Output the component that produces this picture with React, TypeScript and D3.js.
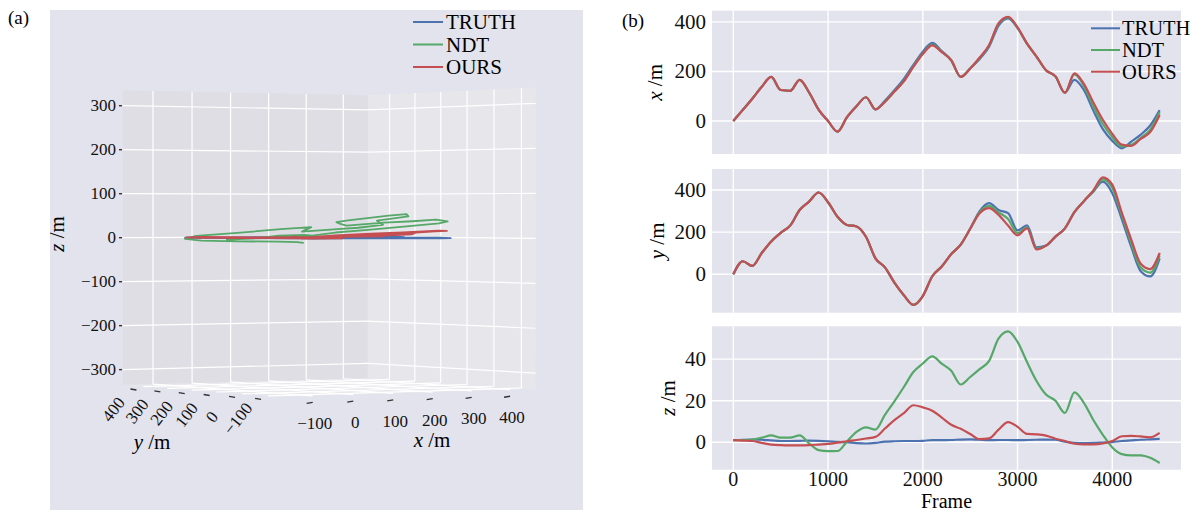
import React from 'react'
import * as d3 from 'd3'

// frame index shared by every series
const FRAMES = [
	0, 100, 200, 300, 400, 500, 600, 700, 800, 900, 1000, 1100, 1200, 1300, 1400, 1500,
	1600, 1700, 1800, 1900, 2000, 2100, 2200, 2300, 2400, 2500, 2600, 2700, 2800, 2900,
	3000, 3100, 3200, 3300, 3400, 3500, 3600, 3700, 3800, 3900, 4000, 4100, 4200, 4300,
	4400, 4500
]

const X_TRUTH = [
	0, 45, 90, 138, 178, 125, 122, 166, 115, 46, 0, -43, 16, 60, 96, 47, 82, 124, 170, 226,
	280, 315, 282, 245, 178, 212, 250, 300, 385, 414, 375, 312, 260, 205, 180, 114, 166, 125,
	42, -33, -80, -110, -83, -55, -18, 44
]
const X_NDT = [
	0, 45, 90, 138, 178, 125, 122, 166, 115, 46, 0, -43, 16, 60, 96, 47, 78, 119, 162, 220,
	272, 308, 279, 245, 178, 212, 254, 305, 392, 418, 377, 312, 260, 205, 180, 114, 188, 142,
	60, -12, -65, -102, -96, -68, -35, 35
]
const X_OURS = [
	0, 45, 90, 138, 178, 125, 122, 166, 115, 46, 0, -43, 16, 60, 96, 47, 77, 119, 160, 218,
	270, 305, 278, 245, 178, 212, 256, 307, 395, 420, 378, 312, 260, 205, 180, 114, 192, 150,
	75, 5, -52, -95, -100, -72, -45, 24
]

const Y_TRUTH = [
	0, 62, 40, 101, 156, 197, 231, 305, 345, 388, 342, 273, 234, 227, 178, 76, 33, -39, -99,
	-145, -103, -9, 37, 96, 141, 216, 300, 338, 305, 290, 208, 232, 128, 136, 179, 218, 295,
	347, 392, 440, 385, 262, 130, 15, -10, 76
]
const Y_NDT = [
	0, 62, 40, 101, 156, 197, 231, 305, 345, 388, 342, 273, 234, 227, 178, 76, 33, -39, -99,
	-145, -103, -9, 37, 96, 141, 216, 295, 325, 294, 262, 195, 222, 122, 136, 179, 218, 295,
	347, 395, 450, 410, 282, 148, 32, 8, 90
]
const Y_OURS = [
	0, 62, 40, 101, 156, 197, 231, 305, 345, 388, 342, 273, 234, 227, 178, 76, 33, -39, -99,
	-145, -103, -9, 37, 96, 141, 216, 290, 314, 282, 231, 185, 218, 118, 136, 179, 218, 295,
	347, 398, 460, 425, 293, 165, 50, 25, 102
]

const Z_TRUTH = [
	1, 1.2, 1.3, 1.2, 0.9, 0.6, 0.6, 0.7, 0.8, 0.7, 0.5, 0.2, 0, -0.4, -0.6, -0.3, 0.3, 0.5,
	0.6, 0.6, 0.7, 1.0, 1.0, 1.1, 1.3, 1.4, 1.2, 1.0, 1.1, 1.1, 1.0, 1.1, 1.2, 1.3, 1.2, 0.3,
	-0.3, -0.4, -0.3, -0.1, 0.1, 0.6, 0.9, 1.2, 1.4, 1.6
]
const Z_NDT = [
	1, 1, 1.3, 2.2, 3.3, 2.2, 2.2, 3.3, -0.5, -3.8, -4.3, -4.2, 0.4, 5, 7.2, 6.1, 13.2, 19.7,
	26.6, 33.8, 37.9, 41.3, 37.8, 34.4, 27.8, 31.4, 35.2, 39.2, 50, 53.4, 48.3, 38.6, 29.5, 23,
	20, 14.1, 24, 19, 10.7, 3.6, -2.5, -5.7, -6.3, -6.3, -7.5, -10
]
const Z_OURS = [
	1, 0.8, 0.6, -0.3, -1.1, -1.4, -1.5, -1.5, -1.4, -1.1, -0.8, -0.2, 0.5, 1.1, 1.8, 2.6, 6.6,
	10.7, 14, 17.8, 16.8, 15.2, 11.9, 8.4, 6.5, 4.0, 1.5, 1.9, 6.1, 9.7, 7.4, 4.0, 3.8, 3.2,
	1.7, 0.6, -0.7, -1, -1, -0.6, 0.6, 2.9, 3.1, 2.8, 2.4, 4.5
]

const NAMES = ['TRUTH', 'NDT', 'OURS']
const COLORS = ['#4c72b0', '#55a868', '#c44e52']

const FRAME_TICKS = [0, 1000, 2000, 3000, 4000]
const XB_TICKS = [0, 200, 400]
const YB_TICKS = [0, 200, 400]
const ZB_TICKS = [0, 20, 40]

const TICKS3_X = [-100, 0, 100, 200, 300, 400]
const TICKS3_Y = [-100, 0, 100, 200, 300, 400]
const TICKS3_Z = [-300, -200, -100, 0, 100, 200, 300]

const FONT = '"Liberation Serif", "DejaVu Serif", serif'
const BG = '#e3e3ed'
const fmt = (v: number) => (v < 0 ? '\u2212' + Math.abs(v) : String(v))

type FC<P = {}> = React.FC<P>

// ---------- 3D projection for panel (a)
const XLIM: [number, number] = [-176, 467]
const YLIM: [number, number] = [-151, 487]
const ZLIM: [number, number] = [-335, 335]
const AZIM = (236.8 * Math.PI) / 180
const ELEV = (0.4 * Math.PI) / 180
const DIST = 13
const CX = 327
const CY = 238
const S = 298

const su = d3.scaleLinear().domain(XLIM).range([-0.5, 0.5])
const sv = d3.scaleLinear().domain(YLIM).range([-0.5, 0.5])
const sw = d3.scaleLinear().domain(ZLIM).range([-0.5, 0.5])

const proj = (x: number, y: number, z: number): [number, number] => {
	const u = su(x)
	const v = sv(y)
	const w = sw(z)
	const right = -Math.sin(AZIM) * u + Math.cos(AZIM) * v
	const up =
		-Math.sin(ELEV) * Math.cos(AZIM) * u -
		Math.sin(ELEV) * Math.sin(AZIM) * v +
		Math.cos(ELEV) * w
	const fwd =
		Math.cos(ELEV) * Math.cos(AZIM) * u +
		Math.cos(ELEV) * Math.sin(AZIM) * v +
		Math.sin(ELEV) * w
	const k = DIST / (DIST - fwd)
	return [CX + S * k * right, CY - S * k * up]
}

type P3 = [number, number, number]
const polyStr = (pts: P3[]) => pts.map((p) => proj(...p).join(',')).join(' ')

const Seg3: FC<{ a: P3; b: P3 }> = ({ a, b }) => {
	const [x1, y1] = proj(...a)
	const [x2, y2] = proj(...b)
	return <line x1={x1} y1={y1} x2={x2} y2={y2} stroke="#fff" strokeWidth={1.2} />
}

const Panel3D: FC = () => {
	const [X0, X1] = XLIM
	const [Y0, Y1] = YLIM
	const [Z0, Z1] = ZLIM
	const xs = [X_TRUTH, X_NDT, X_OURS]
	const ys = [Y_TRUTH, Y_NDT, Y_OURS]
	const zs = [Z_TRUTH, Z_NDT, Z_OURS]
	const line = d3.line<[number, number]>()

	return (
		<g>
			<rect x={50} y={10} width={533} height={500} fill={BG} />
			{/* panes */}
			<polygon points={polyStr([[X0, Y0, Z0], [X1, Y0, Z0], [X1, Y1, Z0], [X0, Y1, Z0]])} fill="#e7e7ec" />
			<polygon points={polyStr([[X0, Y1, Z0], [X1, Y1, Z0], [X1, Y1, Z1], [X0, Y1, Z1]])} fill="#dedee4" />
			<polygon points={polyStr([[X1, Y0, Z0], [X1, Y1, Z0], [X1, Y1, Z1], [X1, Y0, Z1]])} fill="#e6e6eb" />
			{/* grid on panes */}
			{TICKS3_X.map((t) => (
				<g key={'gx' + t}>
					<Seg3 a={[t, Y1, Z0]} b={[t, Y1, Z1]} />
					<Seg3 a={[t, Y0, Z0]} b={[t, Y1, Z0]} />
				</g>
			))}
			{TICKS3_Y.map((t) => (
				<g key={'gy' + t}>
					<Seg3 a={[X1, t, Z0]} b={[X1, t, Z1]} />
					<Seg3 a={[X0, t, Z0]} b={[X1, t, Z0]} />
				</g>
			))}
			{TICKS3_Z.map((t) => (
				<g key={'gz' + t}>
					<Seg3 a={[X0, Y1, t]} b={[X1, Y1, t]} />
					<Seg3 a={[X1, Y0, t]} b={[X1, Y1, t]} />
				</g>
			))}
			{/* trajectories */}
			{NAMES.map((n, s) => (
				<path
					key={n}
					d={line(FRAMES.map((_, i) => proj(xs[s][i], ys[s][i], zs[s][i]))) || ''}
					fill="none"
					stroke={COLORS[s]}
					strokeWidth={1.8}
					strokeLinejoin="round"
				/>
			))}
			{/* z axis */}
			{TICKS3_Z.map((t) => {
				const [px, py] = proj(X0, Y1, t)
				return (
					<g key={'zt' + t}>
						<line x1={px - 4} x2={px - 1} y1={py} y2={py} stroke="#333" strokeWidth={1.4} />
						<text x={px - 7} y={py} fontSize={17} textAnchor="end" dominantBaseline="central" fill="#111">
							{fmt(t)}
						</text>
					</g>
				)
			})}
			<text transform="translate(57,234) rotate(-90)" fontSize={21} textAnchor="middle" dominantBaseline="central">
				<tspan fontStyle="italic">z</tspan> /m
			</text>
			{/* x axis */}
			{TICKS3_X.map((t) => {
				const [px, py] = proj(t, Y0, Z0)
				const cx = px - 3
				const cy = py + 7
				return (
					<g key={'xt' + t}>
						<line x1={cx - 3} x2={cx + 3} y1={cy + 0.5} y2={cy - 0.5} stroke="#333" strokeWidth={1.4} />
						<text x={cx + 5} y={cy + 21} fontSize={17} textAnchor="middle" dominantBaseline="central" fill="#111">
							{fmt(t)}
						</text>
					</g>
				)
			})}
			<text x={432} y={440} fontSize={21} textAnchor="middle" dominantBaseline="central">
				<tspan fontStyle="italic">x</tspan> /m
			</text>
			{/* y axis */}
			{TICKS3_Y.map((t) => {
				const [px, py] = proj(X0, t, Z0)
				const cx = px - 10
				const cy = py + 3
				return (
					<g key={'yt' + t}>
						<line x1={cx - 3} x2={cx + 3} y1={cy - 0.5} y2={cy + 0.5} stroke="#333" strokeWidth={1.4} />
						<text
							transform={`translate(${cx - 20},${cy + 20}) rotate(-52)`}
							fontSize={17}
							textAnchor="middle"
							dominantBaseline="central"
							fill="#111"
						>
							{fmt(t)}
						</text>
					</g>
				)
			})}
			<text x={152} y={442} fontSize={21} textAnchor="middle" dominantBaseline="central">
				<tspan fontStyle="italic">y</tspan> /m
			</text>
			{/* legend */}
			{NAMES.map((n, i) => (
				<g key={'la' + n}>
					<line x1={413} x2={443} y1={22 + i * 22.5} y2={22 + i * 22.5} stroke={COLORS[i]} strokeWidth={2} />
					<text x={446} y={22 + i * 22.5} fontSize={21} dominantBaseline="central">
						{n}
					</text>
				</g>
			))}
		</g>
	)
}

// ---------- panel (b)
const B_LEFT = 712
const B_RIGHT = 1181

interface IPanel {
	top: number
	bottom: number
	domain: [number, number]
	ticks: number[]
	label: string
	labelX: number
	series: number[][]
}

const PANELS: IPanel[] = [
	{ top: 10.7, bottom: 154, domain: [-133, 445], ticks: XB_TICKS, label: 'x', labelX: 655, series: [X_TRUTH, X_NDT, X_OURS] },
	{ top: 169, bottom: 312.7, domain: [-182, 499.5], ticks: YB_TICKS, label: 'y', labelX: 657, series: [Y_TRUTH, Y_NDT, Y_OURS] },
	{ top: 326.3, bottom: 469.7, domain: [-13.2, 55.8], ticks: ZB_TICKS, label: 'z', labelX: 668, series: [Z_TRUTH, Z_NDT, Z_OURS] }
]

const PanelB: FC = () => {
	const fx = d3.scaleLinear().domain([-225, 4725]).range([B_LEFT, B_RIGHT])
	return (
		<g>
			{PANELS.map((p, pi) => {
				const fy = d3.scaleLinear().domain(p.domain).range([p.bottom, p.top])
				const line = d3
					.line<number>()
					.x((_, i) => fx(FRAMES[i]))
					.y((d) => fy(d))
					.curve(d3.curveMonotoneX)
				return (
					<g key={pi}>
						<rect x={B_LEFT} y={p.top} width={B_RIGHT - B_LEFT} height={p.bottom - p.top} fill={BG} />
						{FRAME_TICKS.map((t) => (
							<line key={t} x1={fx(t)} x2={fx(t)} y1={p.top} y2={p.bottom} stroke="#fff" strokeWidth={1.4} />
						))}
						{p.ticks.map((t) => (
							<g key={'h' + t}>
								<line x1={B_LEFT} x2={B_RIGHT} y1={fy(t)} y2={fy(t)} stroke="#fff" strokeWidth={1.4} />
								<text x={706} y={fy(t)} fontSize={21} textAnchor="end" dominantBaseline="central" fill="#111">
									{fmt(t)}
								</text>
							</g>
						))}
						{p.series.map((s, si) => (
							<path key={si} d={line(s) || ''} fill="none" stroke={COLORS[si]} strokeWidth={2.2} strokeLinejoin="round" />
						))}
						<text
							transform={`translate(${p.labelX},${(p.top + p.bottom) / 2}) rotate(-90)`}
							fontSize={21}
							textAnchor="middle"
							dominantBaseline="central"
						>
							<tspan fontStyle="italic">{p.label}</tspan> /m
						</text>
					</g>
				)
			})}
			{FRAME_TICKS.map((t) => (
				<text key={'ft' + t} x={fx(t)} y={479} fontSize={20} textAnchor="middle" dominantBaseline="central" fill="#111">
					{t}
				</text>
			))}
			<text x={fx(2250)} y={501} fontSize={20} textAnchor="middle" dominantBaseline="central">
				Frame
			</text>
			{NAMES.map((n, i) => (
				<g key={'lb' + n}>
					<line x1={1091} x2={1120} y1={28.3 + i * 21.7} y2={28.3 + i * 21.7} stroke={COLORS[i]} strokeWidth={2} />
					<text x={1122} y={28.3 + i * 21.7} fontSize={20.5} dominantBaseline="central">
						{n}
					</text>
				</g>
			))}
		</g>
	)
}

const App: FC = () => {
	return (
		<svg
			width={1201}
			height={515}
			style={{ position: 'absolute', left: 0, top: 0, background: '#fff', fontFamily: FONT }}
			fontFamily={FONT}
		>
			<text x={8} y={17} fontSize={19} dominantBaseline="central">
				(a)
			</text>
			<text x={622} y={20} fontSize={19} dominantBaseline="central">
				(b)
			</text>
			<Panel3D />
			<PanelB />
		</svg>
	)
}

export default App
